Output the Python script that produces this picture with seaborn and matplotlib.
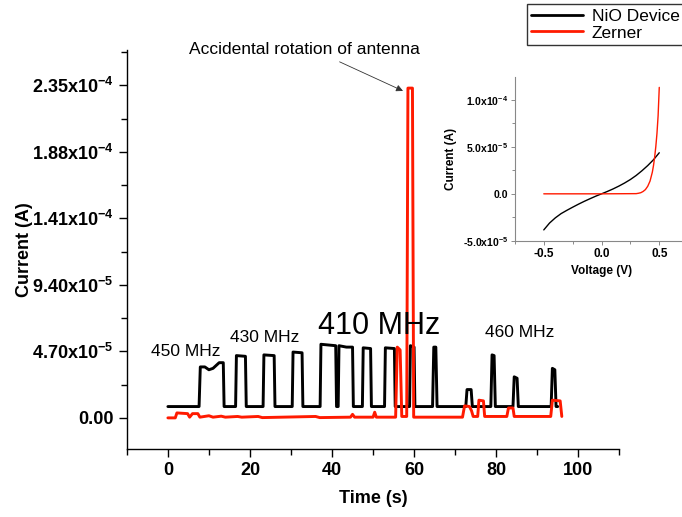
import numpy as np
import pandas as pd
import matplotlib
matplotlib.use('Agg')
import matplotlib.pyplot as plt
import seaborn as sns
from matplotlib.ticker import FixedLocator, AutoMinorLocator

# ── Data (currents in units of 1e-5 A) ─────────────────────────────
nio_t = [0, 7.6, 7.9, 9.0, 10.0, 11.0, 12.5, 13.5, 13.7, 16.5, 16.7, 18.9, 19.1,
         23.2, 23.4, 25.9, 26.1, 30.3, 30.5, 32.7, 32.9, 37.1, 37.3, 40.9, 41.1,
         41.5, 41.7, 43.5, 45.0, 45.2, 47.4, 47.6, 49.4, 49.6, 52.8, 53.0, 55.2,
         55.4, 58.9, 59.1, 60.0, 60.2, 64.5, 64.8, 65.3, 65.6, 72.6, 72.9, 73.9,
         74.2, 78.7, 79.0, 79.5, 79.8, 84.1, 84.4, 85.1, 85.4, 93.4, 93.7, 94.3,
         94.6, 95.0]
nio_i = [0.8, 0.8, 3.6, 3.6, 3.4, 3.5, 3.9, 3.9, 0.8, 0.8, 4.4, 4.35, 0.8,
         0.8, 4.45, 4.4, 0.8, 0.8, 4.65, 4.6, 0.8, 0.8, 5.2, 5.1, 0.8,
         0.8, 5.1, 5.0, 5.0, 0.8, 0.8, 4.95, 4.9, 0.8, 0.8, 4.95, 4.9,
         0.8, 0.8, 5.1, 5.0, 0.8, 0.8, 5.0, 5.0, 0.8, 0.8, 2.0, 2.0,
         0.8, 0.8, 4.45, 4.4, 0.8, 0.8, 2.9, 2.8, 0.8, 0.8, 3.5, 3.4,
         0.8, 0.8]

zen_t = [0, 1.8, 2.2, 4.8, 5.3, 6.0, 7.3, 7.8, 10.0, 11.0, 13.0, 14.0, 17.0, 18.0,
         22.0, 23.0, 36.0, 37.0, 44.5, 45.0, 45.5, 50.0, 50.4, 50.8, 55.5, 55.9,
         56.6, 57.0, 58.2, 58.5, 59.6, 59.9, 71.8, 72.3, 73.5, 74.0, 74.4, 75.5,
         75.8, 76.9, 77.2, 82.6, 83.0, 84.1, 84.4, 93.3, 93.7, 95.6, 96.0]
zen_i = [0, 0, 0.35, 0.3, 0.05, 0.3, 0.3, 0.05, 0.15, 0.05, 0.12, 0.05, 0.1, 0.05,
         0.1, 0.02, 0.1, 0.02, 0.05, 0.25, 0.05, 0.05, 0.4, 0.05, 0.05, 5.0,
         4.8, 0.1, 0.1, 23.3, 23.3, 0.05, 0.05, 0.85, 0.8, 0.5, 0.1, 0.1,
         1.25, 1.2, 0.1, 0.1, 0.7, 0.7, 0.1, 0.1, 1.25, 1.2, 0.1]

# inset I-V curves (current in 1e-5 A)
iv_v_nio = [-0.5, -0.45, -0.4, -0.35, -0.3, -0.25, -0.2, -0.15, -0.1, -0.05, 0.0,
            0.05, 0.1, 0.15, 0.2, 0.25, 0.3, 0.35, 0.4, 0.45, 0.5]
iv_i_nio = [-3.83, -3.1, -2.55, -2.1, -1.75, -1.42, -1.1, -0.8, -0.52, -0.25, 0.0,
            0.25, 0.52, 0.82, 1.15, 1.52, 1.95, 2.45, 3.0, 3.62, 4.36]
iv_v_zen = [-0.5, -0.3, 0.0, 0.3, 0.32, 0.34, 0.36, 0.38, 0.40, 0.42, 0.44, 0.45,
            0.46, 0.47, 0.48, 0.49, 0.5]
iv_i_zen = [0, 0, 0, 0.02, 0.06, 0.12, 0.25, 0.45, 0.8, 1.35, 2.3, 3.0,
            3.9, 5.0, 6.4, 8.3, 11.3]

ytick_vals = [0, 4.70e-5, 9.40e-5, 1.41e-4, 1.88e-4, 2.35e-4]
ytick_labels = ['0.00', r'4.70x10$^{-5}$', r'9.40x10$^{-5}$', r'1.41x10$^{-4}$',
                r'1.88x10$^{-4}$', r'2.35x10$^{-4}$']
inset_yticks = [-5e-5, 0, 5e-5, 1e-4]
inset_ylabels = [r'-5.0x10$^{-5}$', '0.0', r'5.0x10$^{-5}$', r'1.0x10$^{-4}$']

main = pd.concat([
    pd.DataFrame({'t': nio_t, 'I': np.array(nio_i) * 1e-5, 'dev': 'NiO Device'}),
    pd.DataFrame({'t': zen_t, 'I': np.array(zen_i) * 1e-5, 'dev': 'Zerner'}),
], ignore_index=True)
iv = pd.concat([
    pd.DataFrame({'V': iv_v_nio, 'I': np.array(iv_i_nio) * 1e-5, 'dev': 'NiO Device'}),
    pd.DataFrame({'V': iv_v_zen, 'I': np.array(iv_i_zen) * 1e-5, 'dev': 'Zerner'}),
], ignore_index=True)

sns.set_theme(style='ticks')
plt.rcParams['font.family'] = ['Liberation Sans', 'DejaVu Sans']
plt.rcParams['mathtext.fontset'] = 'custom'
plt.rcParams['mathtext.rm'] = 'Liberation Sans:bold'
plt.rcParams['mathtext.default'] = 'rm'
plt.rcParams['text.color'] = 'black'
plt.rcParams['axes.labelcolor'] = 'black'
plt.rcParams['xtick.color'] = 'black'
plt.rcParams['ytick.color'] = 'black'

palette = {'NiO Device': 'black', 'Zerner': '#ff1a00'}

fig = plt.figure(figsize=(6.82, 5.17), dpi=100)
ax = fig.add_axes([0.186, 0.1315, 0.722, 0.772])

sns.lineplot(data=main, x='t', y='I', hue='dev', palette=palette, sort=False,
             estimator=None, linewidth=2.1, ax=ax, legend=False)

ax.set_xlim(-10, 110)
ax.set_ylim(-2.2e-5, 2.6e-4)
ax.set_xticks([0, 20, 40, 60, 80, 100])
ax.xaxis.set_minor_locator(AutoMinorLocator(2))
ax.yaxis.set_major_locator(FixedLocator(ytick_vals))
ax.set_yticklabels(ytick_labels)
ax.yaxis.set_minor_locator(FixedLocator([2.35e-5, 7.05e-5, 1.175e-4, 1.645e-4, 2.115e-4, 2.585e-4]))
for lab in ax.get_xticklabels() + ax.get_yticklabels():
    lab.set_fontweight('bold')
    lab.set_fontsize(13)
ax.tick_params(which='major', length=6, width=1, direction='out', color='black')
ax.tick_params(which='minor', length=4, width=1, direction='out', color='black')
sns.despine(ax=ax)
for s in ['left', 'bottom']:
    ax.spines[s].set_color('black')
    ax.spines[s].set_linewidth(1)
ax.set_xlabel('Time (s)', fontsize=13, fontweight='bold', labelpad=8)
ax.set_ylabel('Current (A)', fontsize=13, fontweight='bold', labelpad=-1)

# annotations
ax.text(4.4, 4.66e-5, '450 MHz', fontsize=12.5, ha='center', va='center')
ax.text(23.7, 5.7e-5, '430 MHz', fontsize=12.5, ha='center', va='center')
ax.text(51.4, 6.5e-5, '410 MHz', fontsize=22, ha='center', va='center')
ax.text(85.7, 6.0e-5, '460 MHz', fontsize=12.5, ha='center', va='center')
ax.annotate('Accidental rotation of antenna', xy=(57.3, 2.31e-4), xytext=(33.3, 2.6e-4),
            fontsize=12.5, ha='center', va='center',
            arrowprops=dict(arrowstyle='-|>', color='#333333', lw=0.6,
                            relpos=(0.61, 0.0), shrinkA=2, shrinkB=0,
                            mutation_scale=10))

# legend
handles = [plt.Line2D([], [], color='black', lw=2), plt.Line2D([], [], color='#ff1a00', lw=2)]
leg = fig.legend(handles, ['NiO Device', 'Zerner'], loc='upper left',
                 bbox_to_anchor=(0.772, 0.992), fontsize=12.5, frameon=True,
                 fancybox=False, handlelength=3.0, borderaxespad=0,
                 borderpad=0.25, labelspacing=0.1, handletextpad=0.5)
leg.get_frame().set_edgecolor('black')
leg.get_frame().set_linewidth(1)

# inset
axi = fig.add_axes([0.755, 0.534, 0.254, 0.317])
sns.lineplot(data=iv, x='V', y='I', hue='dev', palette=palette, sort=False,
             estimator=None, linewidth=1.0, ax=axi, legend=False)
axi.set_xlim(-0.75, 0.75)
axi.set_ylim(-5e-5, 1.24e-4)
axi.set_xticks([-0.5, 0.0, 0.5])
axi.set_xticklabels(['-0.5', '0.0', '0.5'])
axi.xaxis.set_minor_locator(AutoMinorLocator(2))
axi.yaxis.set_major_locator(FixedLocator(inset_yticks))
axi.set_yticklabels(inset_ylabels)
axi.yaxis.set_minor_locator(AutoMinorLocator(2))
for lab in axi.get_xticklabels():
    lab.set_fontweight('bold')
    lab.set_fontsize(8.5)
for lab in axi.get_yticklabels():
    lab.set_fontweight('bold')
    lab.set_fontsize(7.5)
axi.tick_params(which='major', length=3, width=0.6, color='#777777', pad=2)
axi.tick_params(which='minor', length=2, width=0.6, color='#777777')
sns.despine(ax=axi)
for s in ['left', 'bottom']:
    axi.spines[s].set_color('#888888')
    axi.spines[s].set_linewidth(0.8)
axi.patch.set_alpha(0)
axi.set_xlabel('Voltage (V)', fontsize=8.5, fontweight='bold')
axi.set_ylabel('Current (A)', fontsize=8.5, fontweight='bold')

fig.savefig('out.png', dpi=100)
